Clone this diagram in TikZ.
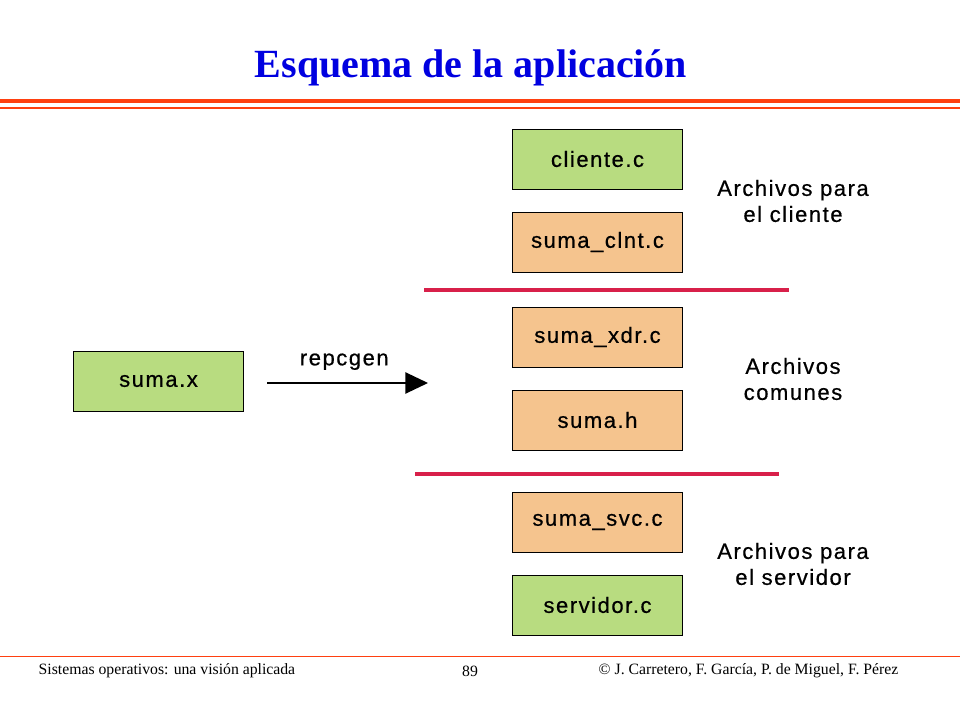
\documentclass[tikz,border=0pt]{standalone}
\usepackage{fontspec}
\setmainfont{Liberation Serif}
\newfontfamily\arial[LetterSpace=7,FakeBold=0.6]{Liberation Sans}
\usetikzlibrary{arrows.meta}
\definecolor{grn}{HTML}{B8DC80}
\definecolor{org}{HTML}{F5C48E}
\definecolor{ttl}{HTML}{0000E0}
\definecolor{orl}{HTML}{FF4010}
\definecolor{rdl}{HTML}{D8204A}
\tikzset{
 fbox/.style={draw=black,line width=0.6pt,minimum width=128pt,minimum height=45pt,inner sep=0pt,font=\arial\fontsize{16.5}{18}\selectfont},
 gbox/.style={fbox,fill=grn},
 obox/.style={fbox,fill=org},
 lbl/.style={font=\arial\fontsize{16.5}{19.5}\selectfont,align=center},
 sep/.style={draw=rdl,line width=2.6pt},
 foot/.style={font=\fontsize{11.8}{13}\selectfont}
}
\begin{document}
\begin{tikzpicture}[x=0.75pt,y=-0.75pt]
\useasboundingbox (0,0) rectangle (960,720);
\node[font=\bfseries\fontsize{30}{33}\selectfont,text=ttl] (title) at (471,68) {Esquema de la aplicación};
\draw[orl,line width=3.5pt] (0,101) -- (960,101);
\draw[orl,line width=1pt] (0,108) -- (960,108);
\node[gbox] (cli) at (597.5,159) {cliente.c};
\node[obox] (clnt) at (597.5,242) {suma\_clnt.c};
\node[obox] (xdr) at (597.5,337) {suma\_xdr.c};
\node[obox] (h) at (597.5,420) {suma.h};
\node[obox] (svc) at (597.5,522) {suma\_svc.c};
\node[gbox] (srv) at (597.5,605) {servidor.c};
\node[gbox] (x) at (158.5,381) {suma.x};
\draw[sep] (424,290) -- (789,290);
\draw[sep] (415,474) -- (779,474);
\coordinate (ae) at (428,383);
\draw[line width=1pt,-{Triangle[length=17pt,width=16pt]}] (267,383) -- (ae) node[pos=0.48,above=6pt,lbl] (rep) {repcgen};
\node[lbl] (l1) at (793,201) {Archivos para\\el cliente};
\node[lbl] (l2) at (793,379) {Archivos\\comunes};
\node[lbl] (l3) at (793,564) {Archivos para\\el servidor};
\draw[orl,line width=0.5pt] (0,656) -- (960,656);
\node[foot,anchor=west] (f1) at (34,671) {Sistemas operativos: una visión aplicada};
\node[foot] (f2) at (470,671) {89};
\node[foot,anchor=east] (f3) at (903,671) {© J. Carretero, F. García, P. de Miguel, F. Pérez};
\end{tikzpicture}
\end{document}
